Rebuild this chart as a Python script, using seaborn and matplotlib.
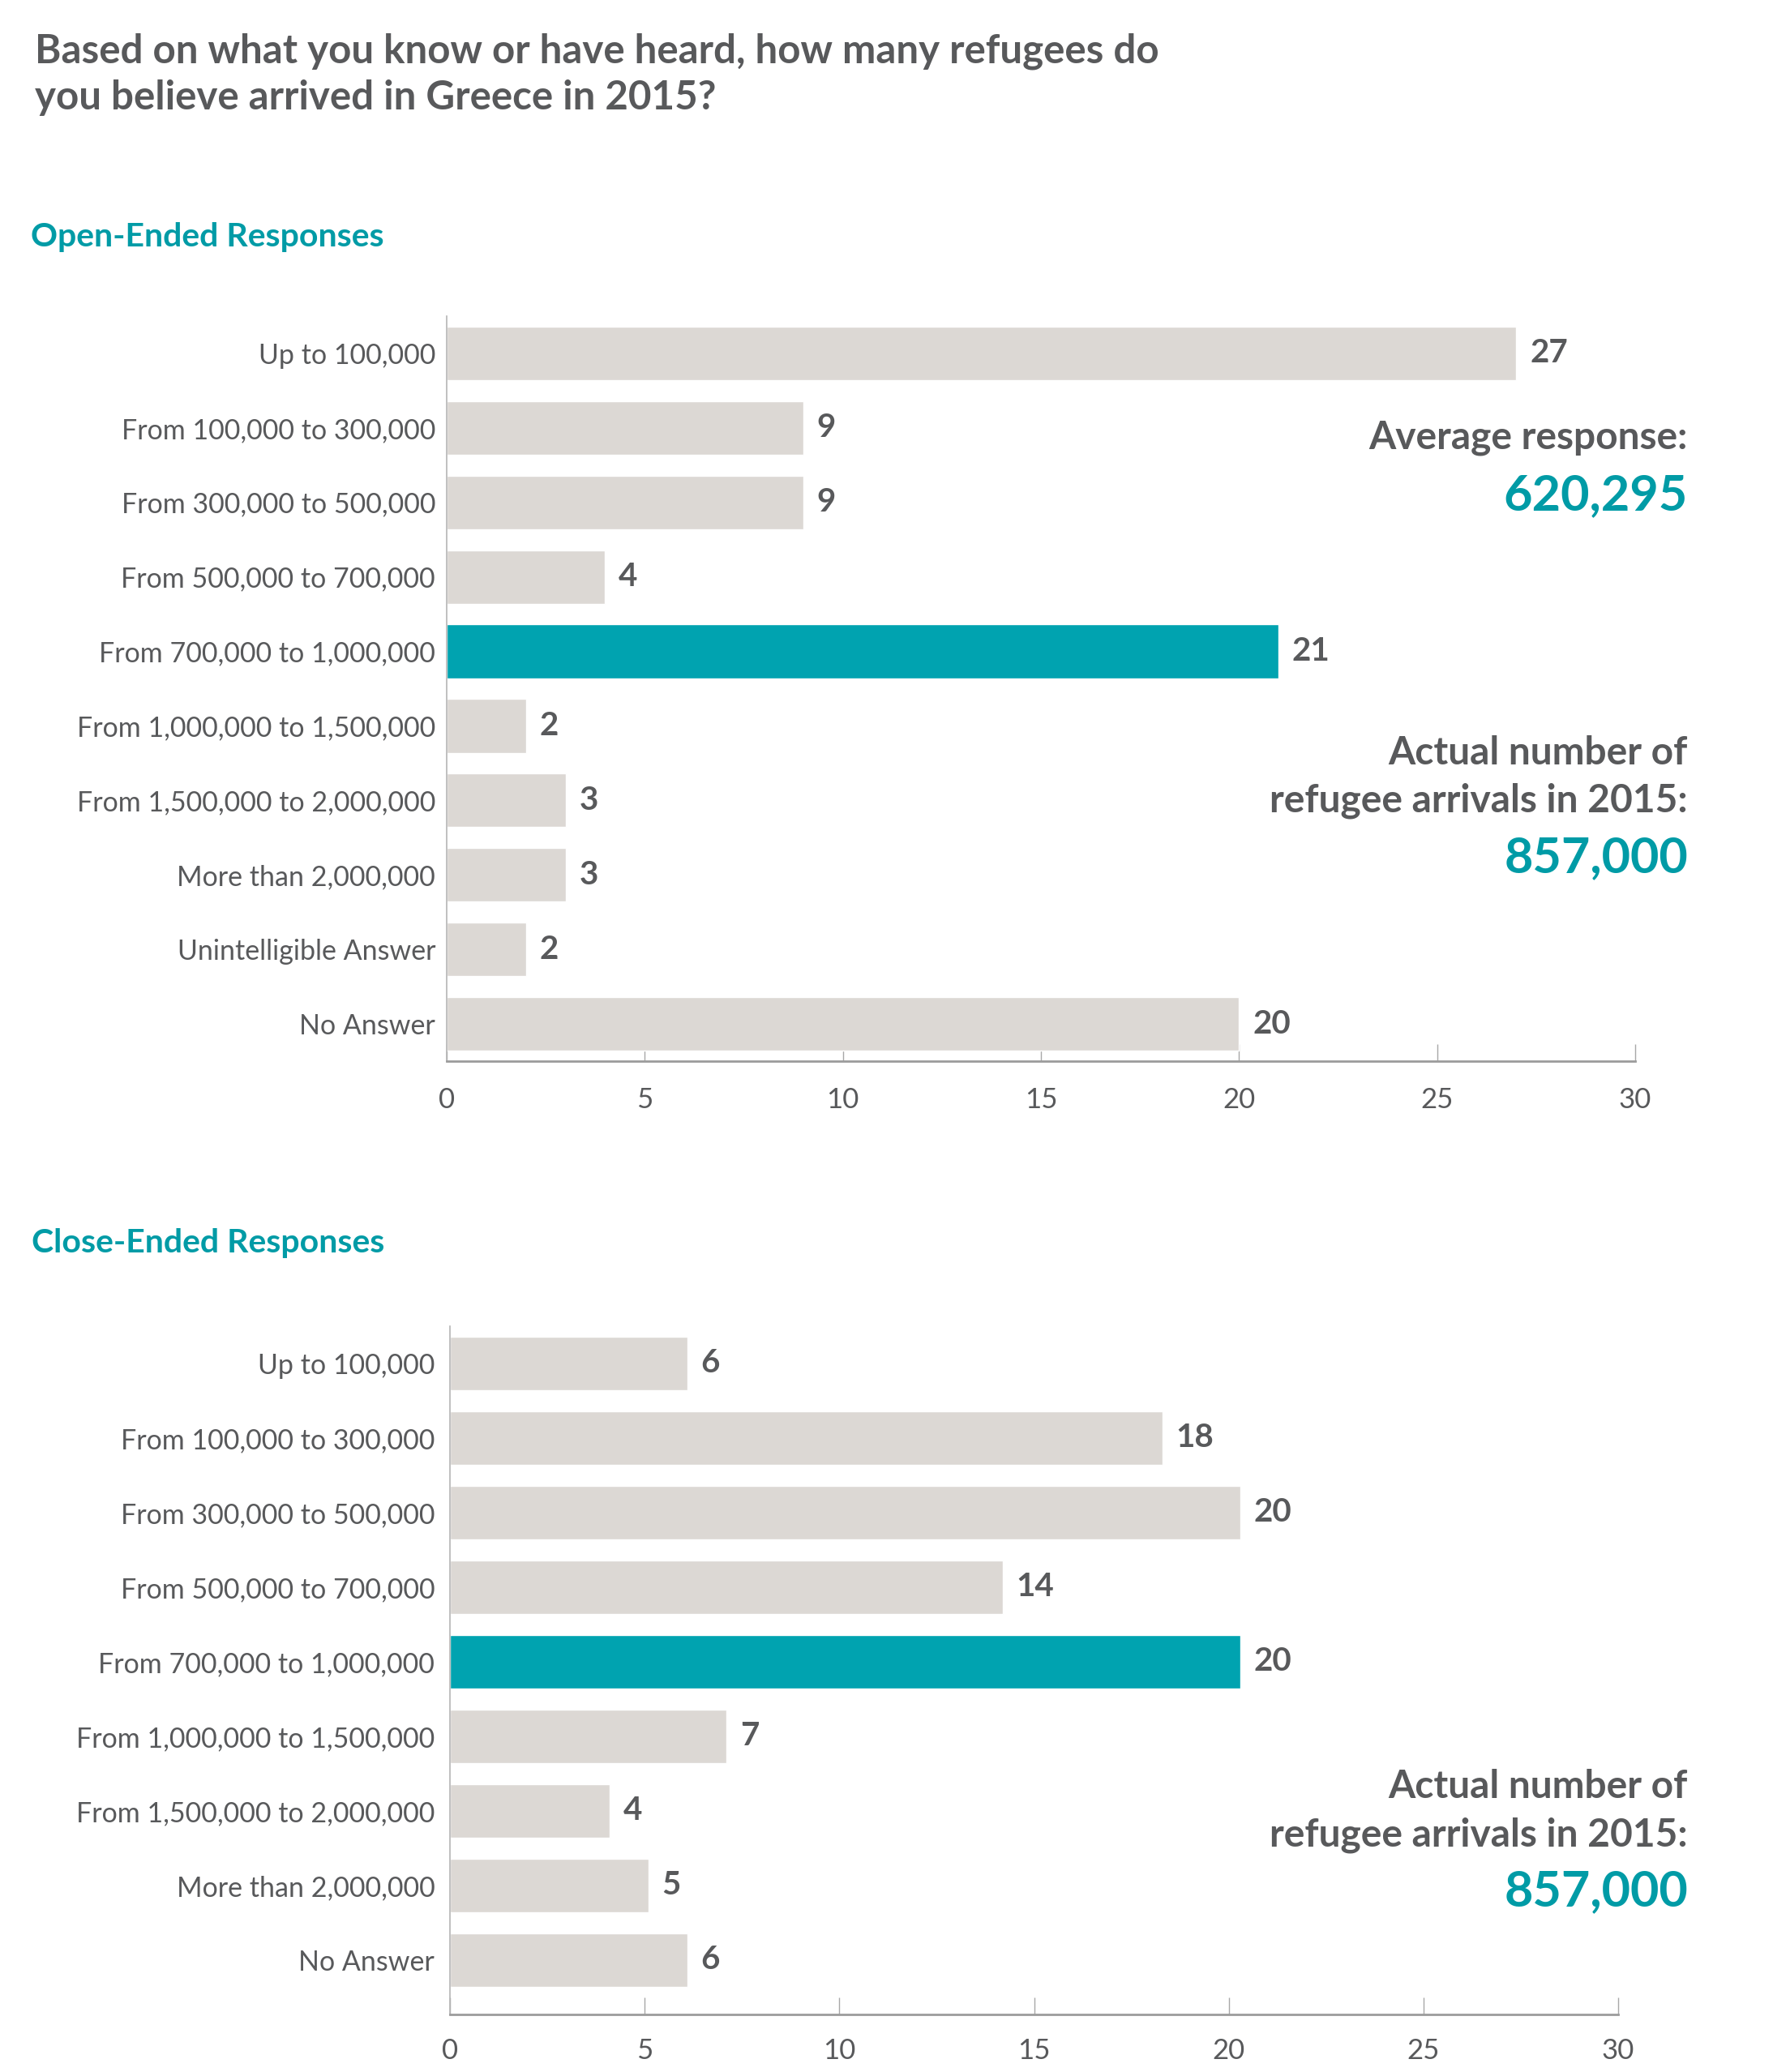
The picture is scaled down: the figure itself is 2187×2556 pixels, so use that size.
import matplotlib
matplotlib.use("Agg")
import matplotlib.pyplot as plt
import seaborn as sns
import pandas as pd

# datos
open_categories = ["Up to 100,000", "From 100,000 to 300,000", "From 300,000 to 500,000",
                   "From 500,000 to 700,000", "From 700,000 to 1,000,000",
                   "From 1,000,000 to 1,500,000", "From 1,500,000 to 2,000,000",
                   "More than 2,000,000", "Unintelligible Answer", "No Answer"]
open_values = [27, 9, 9, 4, 21, 2, 3, 3, 2, 20]
open_labels = ["27", "9", "9", "4", "21", "2", "3", "3", "2", "20"]

close_categories = ["Up to 100,000", "From 100,000 to 300,000", "From 300,000 to 500,000",
                    "From 500,000 to 700,000", "From 700,000 to 1,000,000",
                    "From 1,000,000 to 1,500,000", "From 1,500,000 to 2,000,000",
                    "More than 2,000,000", "No Answer"]
close_values = [6.1, 18.3, 20.3, 14.2, 20.3, 7.1, 4.1, 5.1, 6.1]
close_labels = ["6", "18", "20", "14", "20", "7", "4", "5", "6"]

highlight = "From 700,000 to 1,000,000"
x_ticks = [0, 5, 10, 15, 20, 25, 30]

title = "Based on what you know or have heard, how many refugees do\nyou believe arrived in Greece in 2015?"

GRAY_TXT = "#58595b"
BAR_GRAY = "#dcd8d4"
TEAL = "#00a3b0"
TEAL_TXT = "#009ba6"

sns.set_theme(style="white")
plt.rcParams["font.family"] = ["Lato", "DejaVu Sans"]

W, H = 2187, 2556
fig = plt.figure(figsize=(W / 100, H / 100), dpi=100)


def fy(px):
    return 1 - px / H


def fx(px):
    return px / W


def draw_panel(rect, cats, vals, labels, ylim, label_pad, ypad):
    ax = fig.add_axes(rect)
    df = pd.DataFrame({"cat": cats, "val": vals})
    pal = {c: (TEAL if c == highlight else BAR_GRAY) for c in cats}
    sns.barplot(data=df, x="val", y="cat", hue="cat", palette=pal, legend=False,
                orient="h", width=0.72, saturation=1, ax=ax)
    for cont, lab in zip(ax.containers, labels):
        ax.bar_label(cont, labels=[lab], padding=12, fontsize=29, fontweight="bold",
                     color=GRAY_TXT)
    ax.set_xlim(0, 30)
    ax.set_ylim(*ylim)
    ax.set_xticks(x_ticks)
    ax.set_xlabel("")
    ax.set_ylabel("")
    for s in ["top", "right"]:
        ax.spines[s].set_visible(False)
    ax.spines["left"].set_color("#b5b5b5")
    ax.spines["left"].set_linewidth(1.2)
    ax.spines["bottom"].set_color("#9c9c9c")
    ax.spines["bottom"].set_linewidth(2.0)
    ax.tick_params(axis="x", direction="in", length=15, width=1, color="#a8a8a8",
                   labelsize=25, labelcolor=GRAY_TXT, pad=label_pad, bottom=True)
    ax.tick_params(axis="y", length=0, labelsize=24.5, labelcolor=GRAY_TXT, pad=ypad)
    return ax


# panel abierto
draw_panel([fx(551), fy(1309), fx(2017) - fx(551), fy(390) - fy(1309)],
           open_categories, open_values, open_labels, (9.5, -0.5), 23, 10)
# panel cerrado
draw_panel([fx(555), fy(2485), fx(1996) - fx(555), fy(1636) - fy(2485)],
           close_categories, close_values, close_labels, (8.73, -0.5), 21, 13.5)

# textos
fig.text(fx(43), fy(135), title, fontsize=35.5, fontweight="bold", color=GRAY_TXT,
         va="baseline", ha="left", linespacing=1.33)
fig.text(fx(38), fy(304), "Open-Ended Responses", fontsize=29.5, fontweight="bold",
         color=TEAL_TXT, va="baseline")
fig.text(fx(39), fy(1545), "Close-Ended Responses", fontsize=29.5, fontweight="bold",
         color=TEAL_TXT, va="baseline")

rx = fx(2082)
fig.text(rx, fy(554), "Average response:", fontsize=34.5, fontweight="bold",
         color=GRAY_TXT, ha="right", va="baseline")
fig.text(rx, fy(629), "620,295", fontsize=44, fontweight="bold",
         color=TEAL_TXT, ha="right", va="baseline")

for base in [943, 2218]:
    fig.text(rx, fy(base), "Actual number of", fontsize=34.5, fontweight="bold",
             color=GRAY_TXT, ha="right", va="baseline")
    fig.text(rx, fy(base + 59), "refugee arrivals in 2015:", fontsize=34.5,
             fontweight="bold", color=GRAY_TXT, ha="right", va="baseline")
    fig.text(rx, fy(base + 133), "857,000", fontsize=44, fontweight="bold",
             color=TEAL_TXT, ha="right", va="baseline")

fig.savefig("out.png", dpi=100, facecolor="white")
